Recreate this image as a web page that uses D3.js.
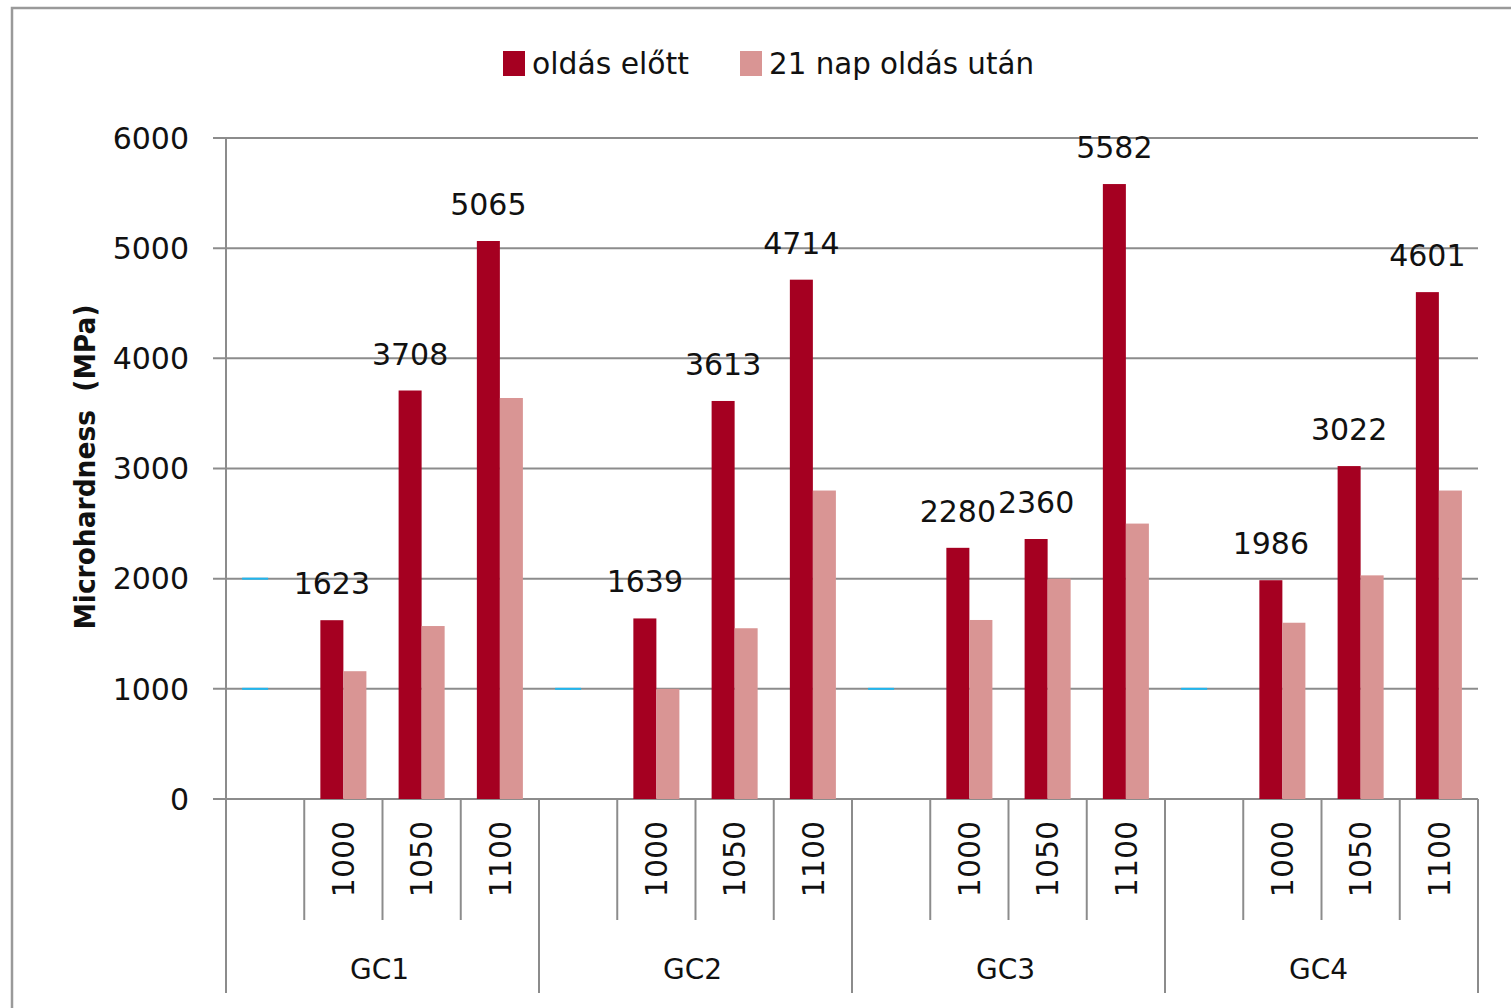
<!DOCTYPE html>
<meta charset="utf-8">
<style>
body { margin: 0; background: #fff; }
svg text { font-family: "DejaVu Sans", Verdana, sans-serif; fill: #111; }
.grid line { stroke: #8c8c8c; stroke-width: 2px; }
.cat line { stroke: #8c8c8c; stroke-width: 2px; }
</style>

<svg width="1511" height="1008"></svg>

<script src="https://d3js.org/d3.v7.min.js"></script>
<script>

// chart data
var groups = ["GC1", "GC2", "GC3", "GC4"];
var temps = ["", "1000", "1050", "1100"];      // first slot of every group is empty
var series = ["oldás előtt", "21 nap oldás után"];
var before = [1623, 3708, 5065, 1639, 3613, 4714, 2280, 2360, 5582, 1986, 3022, 4601];
var after21 = [1160, 1570, 3640, 1000, 1550, 2800, 1625, 2000, 2500, 1600, 2030, 2800];
var yTicks = [0, 1000, 2000, 3000, 4000, 5000, 6000];
// stray cyan marks sitting in the empty slots
var strayGroups = ["GC1", "GC1", "GC2", "GC3", "GC4"];
var strayVals = [1000, 2000, 1000, 1000, 1000];

var colors = ["#a50021", "#d99594"];

var svg = d3.select("svg");

var plotL = 226, plotR = 1478, plotT = 138, plotB = 799;

// outer chart frame (cut off at right/bottom)
svg.append("path")
    .attr("d", "M12,1008 V8 H1511")
    .attr("fill", "none")
    .attr("stroke", "#9a9a9a")
    .attr("stroke-width", 2.5);

var slots = [];
groups.forEach(function(g) {
  temps.forEach(function(t) { slots.push(g + "|" + t); });
});

var x = d3.scaleBand().domain(slots).range([plotL, plotR]).padding(0);
var xs = d3.scaleBand().domain(series).range([0, x.bandwidth()])
    .paddingInner(0).paddingOuter(0.7);
var y = d3.scaleLinear().domain([0, 6000]).range([plotB, plotT]);

// gridlines + ticks
var grid = svg.append("g").attr("class", "grid");
grid.selectAll("line").data(yTicks).enter().append("line")
    .attr("x1", plotL - 13).attr("x2", plotR)
    .attr("y1", function(d) { return y(d); })
    .attr("y2", function(d) { return y(d); });

svg.append("g").selectAll("text").data(yTicks).enter().append("text")
    .attr("x", 189)
    .attr("y", function(d) { return y(d); })
    .attr("dy", "0.36em")
    .attr("text-anchor", "end")
    .style("font-size", "30px")
    .text(function(d) { return d; });

// y axis title
svg.append("text")
    .attr("transform", "translate(85,467) rotate(-90)")
    .attr("dy", "0.36em")
    .attr("text-anchor", "middle")
    .attr("textLength", 325)
    .attr("lengthAdjust", "spacingAndGlyphs")
    .style("font-size", "29px")
    .style("font-weight", "bold")
    .style("white-space", "pre")
    .text("Microhardness  (MPa)");

// rows for bars
var rows = [];
var k = 0;
groups.forEach(function(g) {
  temps.slice(1).forEach(function(t) {
    rows.push({slot: g + "|" + t, values: [before[k], after21[k]]});
    k++;
  });
});

var barG = svg.append("g");
rows.forEach(function(r) {
  barG.selectAll(null).data(r.values).enter().append("rect")
      .attr("x", function(d, i) { return x(r.slot) + xs(series[i]); })
      .attr("width", xs.bandwidth())
      .attr("y", function(d) { return y(d); })
      .attr("height", function(d) { return y(0) - y(d); })
      .attr("fill", function(d, i) { return colors[i]; });
});

// stray cyan marks
svg.append("g").selectAll("line").data(strayVals).enter().append("line")
    .attr("x1", function(d, i) { return x(strayGroups[i] + "|") + xs(series[0]); })
    .attr("x2", function(d, i) { return x(strayGroups[i] + "|") + xs(series[0]) + xs.bandwidth() + 3; })
    .attr("y1", function(d) { return y(d); })
    .attr("y2", function(d) { return y(d); })
    .attr("stroke", "#1fb6ef")
    .attr("stroke-width", 2);

// value labels on the first series
svg.append("g").selectAll("text").data(rows).enter().append("text")
    .attr("x", function(d) { return x(d.slot) + xs(series[0]) + xs.bandwidth() / 2; })
    .attr("y", function(d) { return y(d.values[0]) - 26; })
    .attr("text-anchor", "middle")
    .style("font-size", "30px")
    .text(function(d) { return d.values[0]; });

// category axis (two levels)
var cat = svg.append("g").attr("class", "cat");
cat.append("line").attr("x1", plotL).attr("x2", plotL).attr("y1", plotT).attr("y2", 993);

var bounds = slots.map(function(s, i) { return {pos: x(s), major: i % 4 === 0}; });
bounds.push({pos: plotR, major: true});
cat.selectAll(".div").data(bounds.slice(1)).enter().append("line")
    .attr("x1", function(d) { return d.pos; })
    .attr("x2", function(d) { return d.pos; })
    .attr("y1", plotB)
    .attr("y2", function(d) { return d.major ? 993 : 920; });

svg.append("g").selectAll("text").data(rows).enter().append("text")
    .attr("transform", function(d) {
      return "translate(" + (x(d.slot) + x.bandwidth() / 2) + ",859) rotate(-90)";
    })
    .attr("dy", "0.36em")
    .attr("text-anchor", "middle")
    .style("font-size", "30px")
    .text(function(d) { return d.slot.split("|")[1]; });

svg.append("g").selectAll("text").data(groups).enter().append("text")
    .attr("x", function(g) { return x(g + "|") + x.bandwidth() * 2 - 3; })
    .attr("y", 969)
    .attr("dy", "0.36em")
    .attr("text-anchor", "middle")
    .style("font-size", "28px")
    .text(function(g) { return g; });

// legend
var legX = [503, 740];
var legW = [157, 265];
var leg = svg.append("g").selectAll("g").data(series).enter().append("g");
leg.append("rect")
    .attr("x", function(d, i) { return legX[i]; })
    .attr("y", 51)
    .attr("width", 22).attr("height", 25)
    .attr("fill", function(d, i) { return colors[i]; });
leg.append("text")
    .attr("x", function(d, i) { return legX[i] + 29; })
    .attr("y", 63)
    .attr("dy", "0.36em")
    .attr("textLength", function(d, i) { return legW[i]; })
    .attr("lengthAdjust", "spacingAndGlyphs")
    .style("font-size", "30px")
    .text(function(d) { return d; });

</script>
